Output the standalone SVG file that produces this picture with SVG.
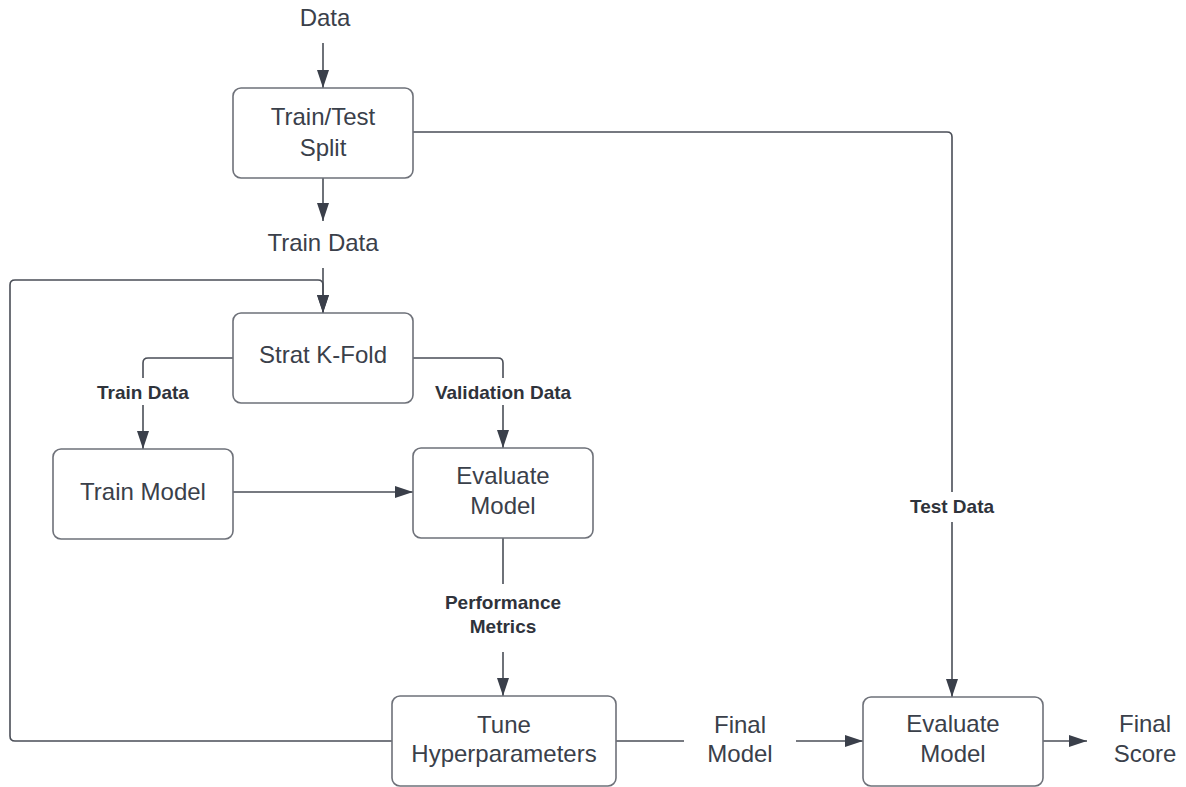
<svg xmlns="http://www.w3.org/2000/svg" width="1186" height="787" viewBox="0 0 1186 787">
  <defs>
    <marker id="arrow" viewBox="0 0 18 12" refX="18" refY="6" markerWidth="18" markerHeight="12" markerUnits="userSpaceOnUse" orient="auto">
      <path d="M0,0 L18,6 L0,12 Z" fill="#3a3f4a"/>
    </marker>
    <style>
      .box { fill: #ffffff; stroke: #6e7179; stroke-width: 1.6; }
      .t { font-family: "Liberation Sans", Arial, sans-serif; font-size: 24px; fill: #3a404a; text-anchor: middle; }
      .lb { font-family: "Liberation Sans", Arial, sans-serif; font-size: 19px; font-weight: bold; fill: #2f333b; text-anchor: middle; }
      .ln { fill: none; stroke: #4a4e57; stroke-width: 1.6; }
      .ar { fill: none; stroke: #4a4e57; stroke-width: 1.6; marker-end: url(#arrow); }
    </style>
  </defs>
  <rect width="1186" height="787" fill="#ffffff"/>

  <!-- free-standing texts -->
  <g id="data-label"><text class="t" x="325" y="26">Data</text></g>
  <g id="train-data-label"><text class="t" x="323" y="251">Train Data</text></g>
  <g id="final-model-label"><text class="t" x="740" y="733">Final</text><text class="t" x="740" y="762">Model</text></g>
  <g id="final-score-label"><text class="t" x="1145" y="732">Final</text><text class="t" x="1145" y="762">Score</text></g>

  <!-- connectors -->
  <g id="connectors">
    <path class="ar" d="M323,43 V88"/>
    <path class="ar" d="M323,178 V221"/>
    <path class="ar" d="M323,268 V313"/>
    <path class="ar" d="M392,741 H15 Q10,741 10,736 V285 Q10,280 15,280 H318 Q323,280 323,285 V313"/>
    <path class="ln" d="M233,358 H148 Q143,358 143,363 V378"/>
    <path class="ar" d="M143,405 V449"/>
    <path class="ln" d="M413,358 H498 Q503,358 503,363 V378"/>
    <path class="ar" d="M503,405 V448"/>
    <path class="ar" d="M233,492 H413"/>
    <path class="ln" d="M503,538 V584"/>
    <path class="ar" d="M503,652 V696"/>
    <path class="ln" d="M616,741 H684"/>
    <path class="ar" d="M796,741 H863"/>
    <path class="ln" d="M413,132 H947 Q952,132 952,137 V492"/>
    <path class="ar" d="M952,522 V697"/>
    <path class="ar" d="M1043,741 H1087"/>
    <text class="lb" x="143" y="399">Train Data</text>
    <text class="lb" x="503" y="399">Validation Data</text>
    <text class="lb" x="503" y="609">Performance</text>
    <text class="lb" x="503" y="633">Metrics</text>
    <text class="lb" x="952" y="513">Test Data</text>
  </g>

  <!-- nodes -->
  <g id="train-test-split">
    <rect class="box" x="233" y="88" width="180" height="90" rx="8"/>
    <text class="t" x="323" y="125">Train/Test</text>
    <text class="t" x="323" y="156">Split</text>
  </g>
  <g id="strat-kfold">
    <rect class="box" x="233" y="313" width="180" height="90" rx="8"/>
    <text class="t" x="323" y="363">Strat K-Fold</text>
  </g>
  <g id="train-model">
    <rect class="box" x="53" y="449" width="180" height="90" rx="8"/>
    <text class="t" x="143" y="500">Train Model</text>
  </g>
  <g id="evaluate-model-cv">
    <rect class="box" x="413" y="448" width="180" height="90" rx="8"/>
    <text class="t" x="503" y="484">Evaluate</text>
    <text class="t" x="503" y="514">Model</text>
  </g>
  <g id="tune-hyperparameters">
    <rect class="box" x="392" y="696" width="224" height="90" rx="8"/>
    <text class="t" x="504" y="733">Tune</text>
    <text class="t" x="504" y="762">Hyperparameters</text>
  </g>
  <g id="evaluate-model-test">
    <rect class="box" x="863" y="697" width="180" height="89" rx="8"/>
    <text class="t" x="953" y="732">Evaluate</text>
    <text class="t" x="953" y="762">Model</text>
  </g>
</svg>
